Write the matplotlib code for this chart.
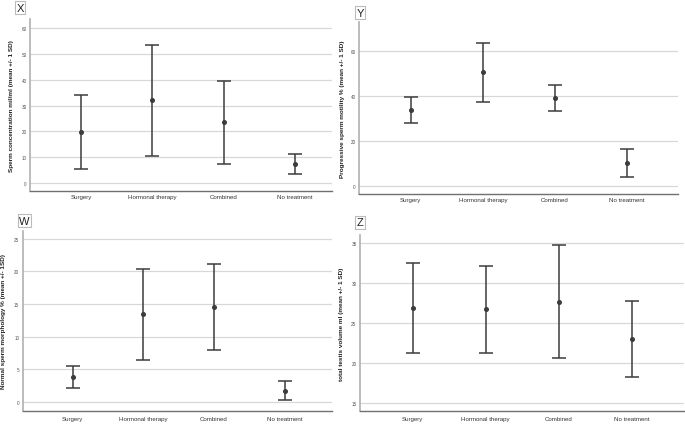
import matplotlib
matplotlib.use("Agg")
import matplotlib.pyplot as plt

plt.rcParams['font.family'] = ['Liberation Sans', 'DejaVu Sans']

categories = ["Surgery", "Hormonal therapy", "Combined", "No treatment"]

conc_mean = [19.8, 32.0, 23.5, 7.5]
conc_sd = [14.2, 21.4, 16.0, 3.9]

motil_mean = [33.5, 50.4, 39.0, 10.1]
motil_sd = [5.85, 13.15, 5.85, 6.35]

morph_mean = [3.83, 13.45, 14.53, 1.72]
morph_sd = [1.73, 6.95, 6.57, 1.46]

vol_mean = [26.85, 26.65, 27.63, 22.95]
vol_sd = [5.65, 5.45, 7.07, 4.75]

W, H = 685, 427
fig = plt.figure(figsize=(W / 100, H / 100), dpi=100)
fig.patch.set_facecolor("white")


def px_axes(l, r, t, b):
    return fig.add_axes([l / W, 1 - b / H, (r - l) / W, (b - t) / H])


panels = [
    dict(box=(30, 332, 20, 192), xlim=(-0.715, 3.52), ylim=(-3.1, 63.5),
         ticks=[0, 10, 20, 30, 40, 50, 60], mean=conc_mean, sd=conc_sd,
         ylabel="Sperm concentration mil/ml (mean +/- 1 SD)", lx=-0.053,
         letter="X", lpos=(20.3, 8.5), xpad=2.5),
    dict(box=(359, 678, 22.7, 195), xlim=(-0.72, 3.71), ylim=(-3.7, 72.9),
         ticks=[0, 20, 40, 60], mean=motil_mean, sd=motil_sd,
         ylabel="Progressive sperm motility % (mean +/- 1 SD)", lx=-0.044,
         letter="Y", lpos=(360, 13.8), xpad=2.5),
    dict(box=(22.7, 332, 231.7, 412.3), xlim=(-0.71, 3.67), ylim=(-1.4, 26.2),
         ticks=[0, 5, 10, 15, 20, 25], mean=morph_mean, sd=morph_sd,
         ylabel="Normal sperm morphology % (mean +/- 1SD)", lx=-0.054,
         letter="W", lpos=(24.7, 221.7), xpad=3.5),
    dict(box=(360, 684, 235.7, 412.3), xlim=(-0.72, 3.71), ylim=(13.9, 36.0),
         ticks=[15, 20, 25, 30, 35], mean=vol_mean, sd=vol_sd,
         ylabel="total testis volume ml (mean +/- 1 SD)", lx=-0.049,
         letter="Z", lpos=(360, 223.5), xpad=3.5),
]

for p in panels:
    ax = px_axes(*p["box"])
    x = list(range(len(categories)))
    ax.errorbar(x, p["mean"], yerr=p["sd"], fmt="o", color="#3c3c3c",
                ecolor="#3c3c3c", elinewidth=1.1, capsize=4.9, capthick=1.1,
                markersize=2.6, zorder=3)
    ax.set_xlim(*p["xlim"])
    ax.set_ylim(*p["ylim"])
    ax.set_yticks(p["ticks"])
    ax.set_yticklabels([str(t) for t in p["ticks"]])
    ax.set_xticks(x)
    ax.set_xticklabels(categories)
    ax.grid(axis="y", color="#d8d8d8", linewidth=0.9, zorder=0)
    ax.set_axisbelow(True)
    for s in ["top", "right"]:
        ax.spines[s].set_visible(False)
    ax.spines["left"].set_color("#b0b0b0")
    ax.spines["left"].set_linewidth(1.2)
    ax.spines["bottom"].set_color("#707070")
    ax.spines["bottom"].set_linewidth(1.0)
    ax.tick_params(axis="y", length=0, pad=2.5, labelsize=3.3, labelcolor="#555555")
    ax.tick_params(axis="x", length=0, pad=p["xpad"], labelsize=4.4, labelcolor="#333333")
    ax.set_ylabel(p["ylabel"], fontsize=4.6, fontweight="bold", color="#222222")
    ax.yaxis.set_label_coords(p["lx"], 0.5)
    lx, ly = p["lpos"]
    fig.text(lx / W, 1 - ly / H, p["letter"], fontsize=8, ha="center", va="center",
             color="#222222",
             bbox=dict(boxstyle="square,pad=0.12", facecolor="white",
                       edgecolor="#bbbbbb", linewidth=0.8))

fig.savefig("out.png", dpi=100, facecolor="white")
